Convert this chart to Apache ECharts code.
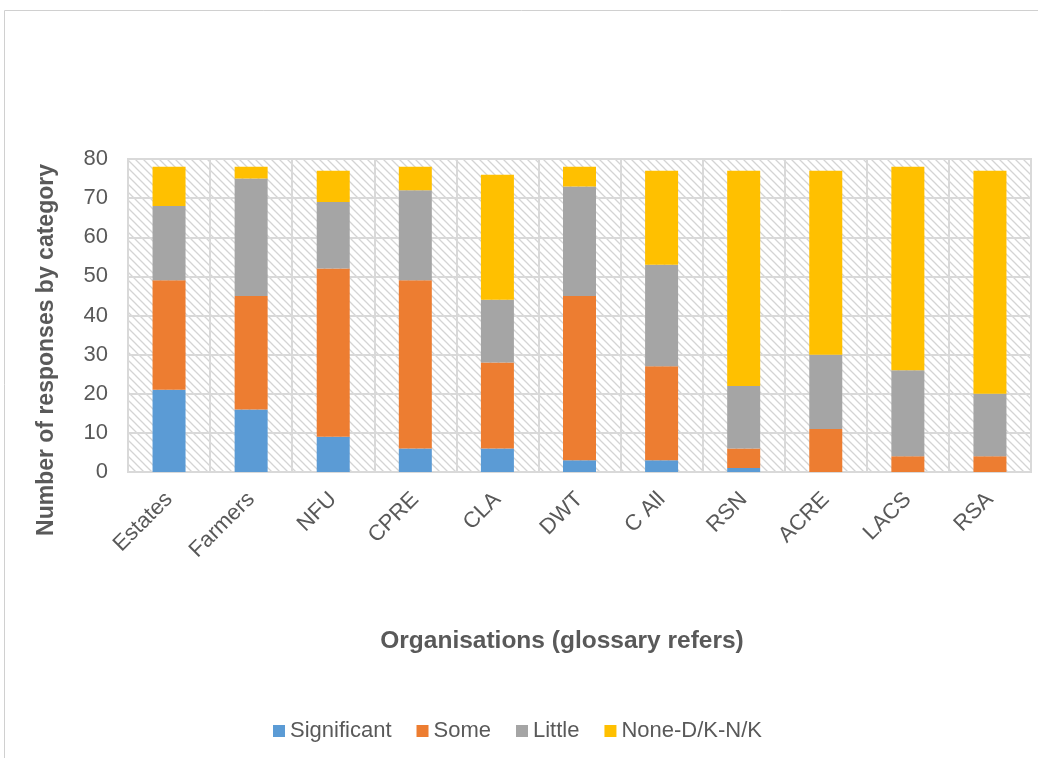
<!DOCTYPE html>
<html><head><meta charset="utf-8">
<script src="https://cdn.jsdelivr.net/npm/echarts@6/dist/echarts.min.js"></script>
<style>html,body{margin:0;padding:0;background:#fff}#c{width:1038px;height:758px}</style>
</head><body><div id="c"></div>
<script>
var categories = ['Estates','Farmers','NFU','CPRE','CLA','DWT','C All','RSN','ACRE','LACS','RSA'];
var significant = [21,16,9,6,6,3,3,1,0,0,0];
var some = [28,29,43,43,22,42,24,5,11,4,4];
var little = [19,30,17,23,16,28,26,16,19,22,16];
var none = [10,3,8,6,32,5,24,55,47,52,57];
var seriesNames = ['Significant','Some','Little','None-D/K-N/K'];
var colors = ['#5b9bd5','#ed7d31','#a5a5a5','#ffc000'];
var yTitle = 'Number of responses by category';
var xTitle = 'Organisations (glossary refers)';

var pc = document.createElement('canvas');
pc.width = 8; pc.height = 8;
var g = pc.getContext('2d');
g.fillStyle = '#ffffff'; g.fillRect(0,0,8,8);
g.strokeStyle = '#d4d4d4'; g.lineWidth = 1.3;
g.beginPath();
g.moveTo(-2,-2); g.lineTo(10,10);
g.moveTo(-2,6); g.lineTo(2,10);
g.moveTo(6,-2); g.lineTo(10,2);
g.stroke();

var chart = echarts.init(document.getElementById('c'));
var data = [significant, some, little, none];
var font = 'Liberation Sans, Arial, sans-serif';
chart.setOption({
  animation: false,
  textStyle: {fontFamily: font},
  graphic: [
    {type:'rect', shape:{x:4.5,y:10.5,width:1100,height:800}, style:{fill:'none', stroke:'#d0d0d0', lineWidth:1}, silent:true},
    {type:'text', x:47, y:350, rotation:Math.PI/2, silent:true,
     style:{text:yTitle, fontSize:23, fontWeight:'bold', fill:'#595959', fontFamily:font, align:'center', verticalAlign:'middle'}},
    {type:'text', x:562, y:641, silent:true,
     style:{text:xTitle, fontSize:24.5, fontWeight:'bold', fill:'#595959', fontFamily:font, align:'center', verticalAlign:'middle'}}
  ],
  grid: {left:128, right:7, top:159, bottom:286, show:true,
         backgroundColor:{image:pc, repeat:'repeat'}, borderColor:'#d9d9d9', borderWidth:2},
  legend: {top:715, left:268, itemWidth:12, itemHeight:12, itemGap:25, icon:'rect',
           textStyle:{fontSize:22, color:'#595959', fontFamily:font}, data:seriesNames},
  xAxis: {type:'category', data:categories,
          axisLine:{show:false}, axisTick:{show:false},
          splitLine:{show:true, lineStyle:{color:'#d9d9d9', width:2}},
          axisLabel:{rotate:45, fontSize:22, color:'#595959', margin:24, interval:0}},
  yAxis: {type:'value', min:0, max:80, interval:10,
          axisLine:{show:false}, axisTick:{show:false},
          splitLine:{lineStyle:{color:'#d9d9d9', width:2}},
          axisLabel:{fontSize:22, color:'#595959', margin:20}},
  series: seriesNames.map(function(n,i){
    return {name:n, type:'bar', stack:'t', data:data[i], barWidth:33,
            itemStyle:{color:colors[i]}};
  })
});
</script></body></html>
